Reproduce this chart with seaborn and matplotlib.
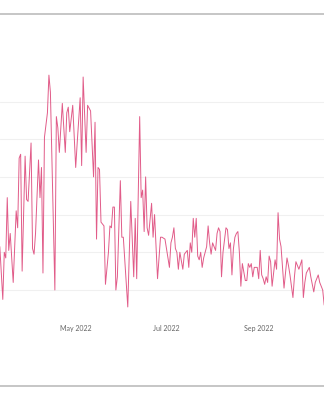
import matplotlib
matplotlib.use("Agg")
import matplotlib.pyplot as plt
import matplotlib.dates as mdates
from matplotlib.lines import Line2D
import numpy as np
import pandas as pd
import seaborn as sns

# ---- data ----
start_date = "2022-03-11"
day_offsets = [0, 2, 3, 4, 5, 6, 7, 9, 11, 12, 13, 14, 15, 17, 18, 19, 21, 22, 23, 24,
               26, 27, 28, 29, 30, 32, 33, 34, 37, 38, 39, 40, 42, 44, 45, 46, 47, 49, 51, 52,
               54, 55, 56, 58, 59, 61, 63, 64, 65, 66, 67, 68, 70, 71, 73, 74, 75, 76, 77, 78,
               79, 81, 82, 83, 86, 88, 90, 91, 92, 94, 95, 96, 97, 98, 99, 100, 102, 103, 104, 106,
               108, 109, 111, 112, 114, 115, 116, 117, 118, 119, 120, 121, 123, 124, 126, 127, 128, 129, 130, 131,
               132, 133, 134, 135, 136, 137, 139, 140, 141, 142, 143, 145, 146, 147, 148, 149, 150, 152, 153, 154,
               155, 156, 157, 158, 159, 160, 161, 162, 163, 165, 166, 167, 168, 169, 170, 171, 173, 174, 175, 176,
               177, 178, 179, 180, 181, 182, 183, 185, 186, 187, 188, 189, 191, 193, 194, 195, 197, 198, 199, 201,
               203, 204, 205, 206, 208, 209, 211, 212, 214, 215, 217, 218]
values = [43, 15, 40, 37, 69, 41, 50, 24, 62, 53, 90, 92, 30, 91, 68, 67, 98, 42, 39, 50,
          89, 69, 85, 29, 101, 114, 134, 125, 20, 112, 106, 93, 119, 93, 114, 117, 104, 118, 85, 98,
          122, 86, 133, 93, 118, 115, 80, 109, 47, 85, 84, 56, 54, 23, 40, 54, 53, 64, 64, 20,
          27, 78, 48, 48, 11, 67, 27, 58, 26, 112, 69, 73, 51, 80, 53, 49, 66, 48, 60, 26,
          48, 48, 47, 42, 32, 45, 48, 53, 42, 40, 31, 40, 31, 39, 41, 32, 45, 40, 58, 48,
          58, 38, 36, 40, 32, 37, 43, 54, 45, 39, 45, 41, 50, 53, 51, 27, 40, 53, 52, 42,
          45, 28, 42, 48, 50, 51, 40, 22, 34, 25, 25, 34, 32, 34, 27, 32, 32, 26, 41, 28,
          26, 23, 27, 24, 38, 35, 22, 36, 31, 61, 47, 43, 21, 37, 33, 28, 16, 27, 35, 31,
          36, 16, 24, 29, 32, 27, 19, 24, 28, 24, 20, 12]
grid_values = [20, 40, 60, 80, 100, 120]
tick_label_format = "%b %Y"

dates = pd.Timestamp(start_date) + pd.to_timedelta(day_offsets, unit="D")
df = pd.DataFrame({"date": dates, "value": values})

sns.set_theme(style="white")
plt.rcParams["font.family"] = ["Lato", "DejaVu Sans"]

fig = plt.figure(figsize=(3.24, 4.0), dpi=100)
ax = fig.add_axes([0.0, 0.2185, 1.0, 0.6125])

sns.lineplot(data=df, x="date", y="value", ax=ax, color="#dc3f74", lw=0.7, alpha=0.85)

ax.set_xlim(pd.Timestamp("2022-03-11 03:00"), pd.Timestamp("2022-10-14 21:00"))
ax.set_ylim(8, 138)
ax.set_yticks(grid_values)
ax.set_yticklabels([])
ax.grid(axis="y", color="#f0f0f0", lw=0.8)
ax.grid(axis="x", visible=False)
ax.xaxis.set_major_locator(mdates.MonthLocator(bymonth=[1, 3, 5, 7, 9, 11]))
ax.xaxis.set_major_formatter(mdates.DateFormatter(tick_label_format))
ax.tick_params(axis="x", length=0, pad=9, labelsize=5, labelcolor="#666666")
ax.tick_params(axis="y", length=0)
ax.set_xlabel("")
ax.set_ylabel("")
for s in ax.spines.values():
    s.set_visible(False)

for yp in (14, 386):
    fig.add_artist(Line2D([0, 1], [1 - yp / 400, 1 - yp / 400], transform=fig.transFigure,
                          color="#c2c2c2", lw=1.3))

fig.savefig("out.png", dpi=100)
